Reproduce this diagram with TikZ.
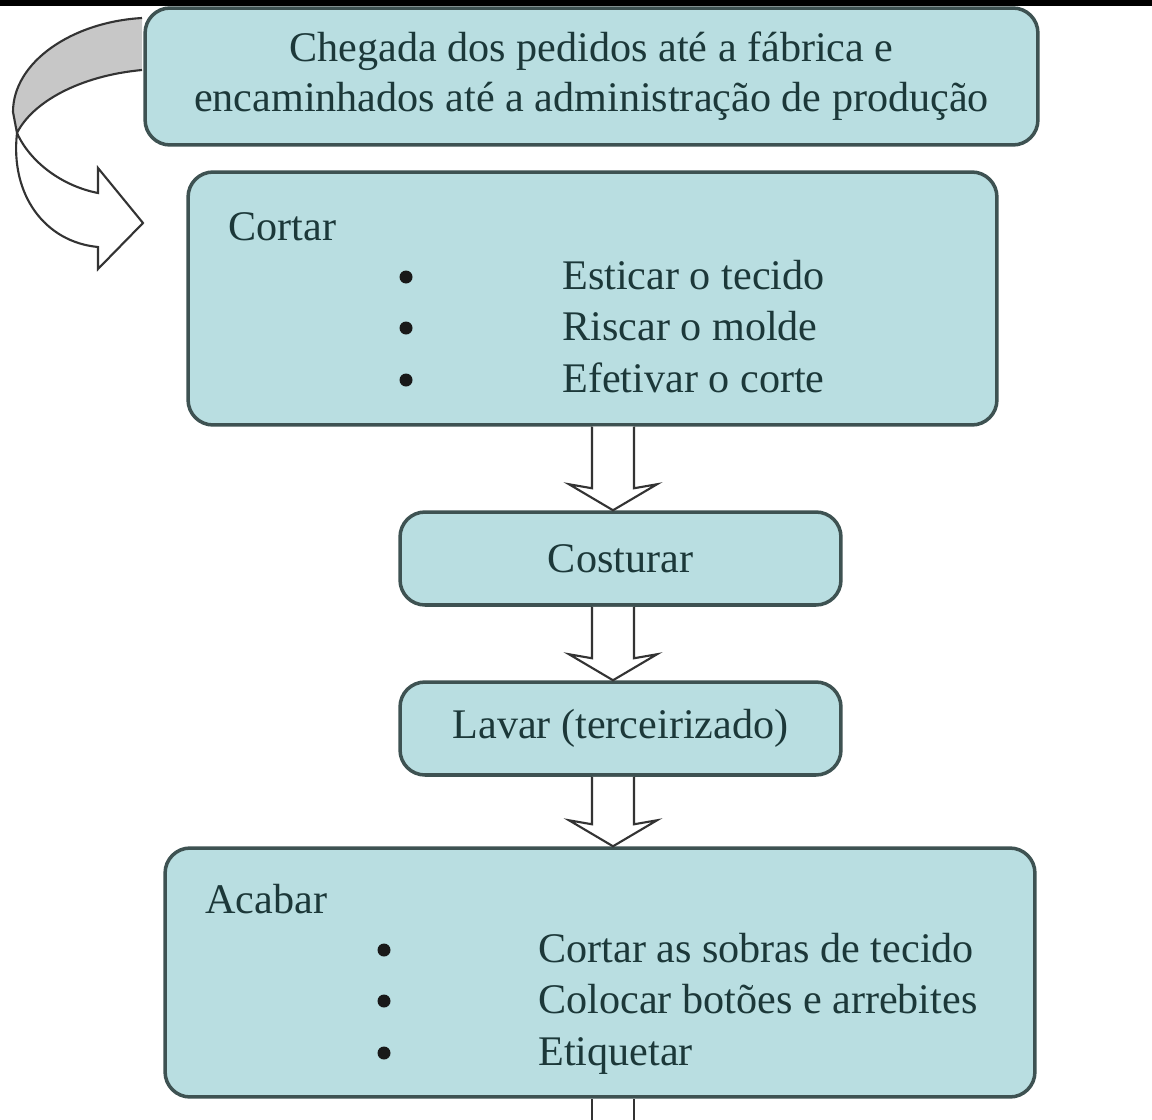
\documentclass[tikz,border=0pt]{standalone}
\usepackage{fontspec}
\setmainfont{Liberation Serif}
\usetikzlibrary{calc}
\definecolor{boxfill}{HTML}{B9DEE1}
\definecolor{boxline}{HTML}{3E5252}
\definecolor{ink}{HTML}{1C3839}
% hollow block arrow from the bottom of #1 down to the top of #2
\newcommand{\flowarrow}[2]{%
  \draw[hollow]($(axis|-#1)+(-21,0)$)--($(axis|-#2)+(-21,-22)$)--($(axis|-#2)+(-44,-26)$)
    --(axis|-#2)--($(axis|-#2)+(44,-26)$)--($(axis|-#2)+(21,-22)$)--($(axis|-#1)+(21,0)$);}
\begin{document}
\begin{tikzpicture}[x=0.02cm,y=-0.02cm,
  stage/.style={draw=boxline,line width=2pt,fill=boxfill,rounded corners=0.5cm,inner sep=0pt,
    text=ink,font=\fontsize{24}{28.5}\selectfont},
  txt/.style={text=ink,font=\fontsize{24}{28.5}\selectfont,inner sep=0pt},
  dot/.style={circle,fill=black!90,inner sep=0pt,minimum size=0.26cm},
  hollow/.style={draw=black!80,line width=1.2pt,fill=white}]
  \useasboundingbox(0,0)rectangle(1152,1119);
  \fill(0,0)rectangle(1152,6);
  \coordinate(axis)at(613,0);
  % curved arrow on the left
  \draw[line width=1.2pt,draw=black!80,fill=black!22](142,18)..controls(72,22)and(13,62)..(13,112)
    --(17,133)..controls(32,103)and(78,76)..(142,70);
  \draw[hollow](17,133)..controls(10,195)and(45,242)..(98,247)--(98,269)--(143,223)--(98,168)--(98,193)
    ..controls(62,186)and(30,162)..(17,133);
  \node[stage,minimum width=17.86cm,minimum height=2.74cm,align=center](pedidos)at(591.5,76.5)
    {Chegada dos pedidos até a fábrica e\\encaminhados até a administração de produção};
  \node[stage,minimum width=16.18cm,minimum height=5.06cm](cortar)at(592.5,298.5){};
  \node[txt,anchor=base west](cortarhd)at(228,240){Cortar};
  \node[txt,anchor=base west](c1)at(562,289){Esticar o tecido};
  \node[txt,anchor=base west](c2)at(562,340){Riscar o molde};
  \node[txt,anchor=base west](c3)at(562,392){Efetivar o corte};
  \foreach \y/\n in {277/cb1,328/cb2,380/cb3}
    \node[dot](\n)at(406,\y){};
  \node[stage,minimum width=8.82cm,minimum height=1.86cm](costurar)at(620.5,558.5){Costurar};
  \node[stage,minimum width=8.82cm,minimum height=1.86cm](lavar)at(620.5,728.5){Lavar (terceirizado)};
  \node[stage,minimum width=17.4cm,minimum height=4.98cm](acabar)at(600,972.5){};
  \node[txt,anchor=base west](acabarhd)at(205,913){Acabar};
  \node[txt,anchor=base west](a1)at(538,962){Cortar as sobras de tecido};
  \node[txt,anchor=base west](a2)at(538,1013){Colocar botões e arrebites};
  \node[txt,anchor=base west](a3)at(538,1065){Etiquetar};
  \foreach \y/\n in {950/ab1,1001/ab2,1053/ab3}
    \node[dot](\n)at(384,\y){};
  \flowarrow{cortar.south}{costurar.north}
  \flowarrow{costurar.south}{lavar.north}
  \flowarrow{lavar.south}{acabar.north}
  \coordinate(next)at(613,1140);
  \draw[hollow]($(axis|-acabar.south)+(-21,0)$)--($(axis|-next)+(-21,0)$)
    ($(axis|-next)+(21,0)$)--($(axis|-acabar.south)+(21,0)$);
\end{tikzpicture}
\end{document}
